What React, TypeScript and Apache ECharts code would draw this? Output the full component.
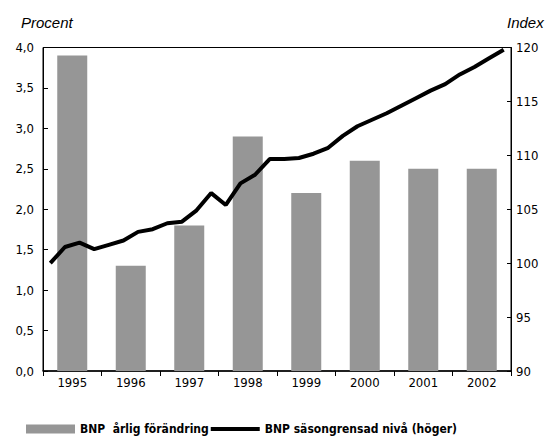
import React, { useEffect, useRef } from "react";
import * as echarts from "echarts";

const years = ["1995", "1996", "1997", "1998", "1999", "2000", "2001", "2002"];
const annualChange = [3.9, 1.3, 1.8, 2.9, 2.2, 2.6, 2.5, 2.5];
const quarters = years.flatMap((y) => ["K1", "K2", "K3", "K4"].map((q) => `${y}${q}`));
const gdpIndex = [
  100.0, 101.5, 101.9, 101.3, 101.7, 102.1, 102.9, 103.15,
  103.7, 103.85, 104.9, 106.5, 105.4, 107.4, 108.2, 109.65,
  109.65, 109.75, 110.15, 110.7, 111.8, 112.7, 113.3, 113.9,
  114.6, 115.3, 116.0, 116.6, 117.5, 118.2, 119.0, 119.8,
];
const barName = "BNP  årlig förändring";
const lineName = "BNP säsongrensad nivå (höger)";

const NARROW = "'Liberation Sans Narrow', 'DejaVu Sans Condensed', 'Arial Narrow', sans-serif";
const ITALIC = "'Liberation Sans', Arial, sans-serif";

export default function App() {
  const ref = useRef<HTMLDivElement>(null);
  useEffect(() => {
    if (!ref.current) return;
    const chart = echarts.init(ref.current, undefined, { renderer: "svg" });
    chart.setOption({
      animation: false,
      backgroundColor: "#ffffff",
      grid: {
        left: 43,
        right: 42,
        top: 47.5,
        bottom: 72,
        containLabel: false,
        show: true,
        borderColor: "#000",
        borderWidth: 1,
      },
      legend: {
        left: 21,
        top: 418,
        itemWidth: 49,
        itemHeight: 9,
        itemGap: 0,
        textStyle: { fontFamily: NARROW, fontWeight: "bold", fontSize: 12, color: "#000" },
        data: [
          { name: barName, icon: "rect" },
          { name: lineName, itemStyle: { opacity: 0 }, lineStyle: { width: 4, color: "#000" } },
        ],
      },
      xAxis: [
        {
          type: "category",
          data: years,
          boundaryGap: true,
          axisLine: { lineStyle: { color: "#000", width: 1.5 } },
          axisTick: { show: true, length: 5, lineStyle: { color: "#000" } },
          axisLabel: { fontFamily: NARROW, fontSize: 13, color: "#000", margin: 5 },
        },
        {
          type: "category",
          data: quarters,
          boundaryGap: true,
          show: false,
          position: "bottom",
        },
      ],
      yAxis: [
        {
          type: "value",
          min: 0,
          max: 4,
          interval: 0.5,
          name: "Procent",
          nameLocation: "end",
          nameGap: 18,
          nameTextStyle: {
            fontFamily: ITALIC,
            fontStyle: "italic",
            fontSize: 15,
            color: "#000",
            align: "left",
            padding: [0, 0, 0, -22],
          },
          axisLine: { show: true, lineStyle: { color: "#000" } },
          axisTick: { show: true, inside: true, length: 5, lineStyle: { color: "#000" } },
          splitLine: { show: false },
          axisLabel: {
            fontFamily: NARROW,
            fontSize: 13,
            color: "#000",
            margin: 9,
            formatter: (v: number) => v.toFixed(1).replace(".", ","),
          },
        },
        {
          type: "value",
          min: 90,
          max: 120,
          interval: 5,
          position: "right",
          name: "Index",
          nameLocation: "end",
          nameGap: 18,
          nameTextStyle: {
            fontFamily: ITALIC,
            fontStyle: "italic",
            fontSize: 15,
            color: "#000",
            align: "left",
            padding: [0, 0, 0, -4],
          },
          axisLine: { show: true, lineStyle: { color: "#000" } },
          axisTick: { show: true, inside: true, length: 4, lineStyle: { color: "#000" } },
          splitLine: { show: false },
          axisLabel: { fontFamily: NARROW, fontSize: 13, color: "#000", margin: 5 },
        },
      ],
      series: [
        {
          name: barName,
          type: "bar",
          xAxisIndex: 0,
          yAxisIndex: 0,
          data: annualChange,
          barWidth: 30,
          itemStyle: { color: "#969696" },
        },
        {
          name: lineName,
          type: "line",
          xAxisIndex: 1,
          yAxisIndex: 1,
          data: gdpIndex,
          showSymbol: false,
          symbol: "none",
          lineStyle: { color: "#000", width: 4 },
          itemStyle: { color: "#000" },
        },
      ],
    });
    return () => chart.dispose();
  }, []);
  return <div ref={ref} style={{ width: 553, height: 443, position: "absolute", left: 0, top: 0 }} />;
}
